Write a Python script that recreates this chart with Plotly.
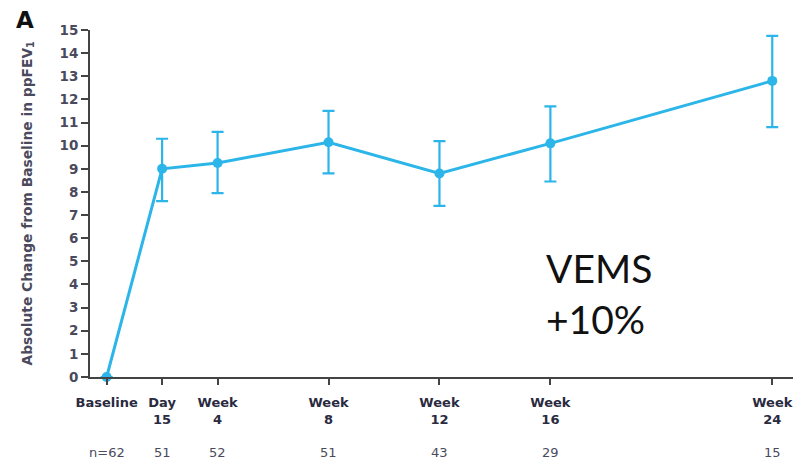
import plotly.graph_objects as go

# Data (x positions in weeks)
visit_weeks = [0, 2, 4, 8, 12, 16, 24]
visit_labels = ["Baseline", "Day<br>15", "Week<br>4", "Week<br>8",
                "Week<br>12", "Week<br>16", "Week<br>24"]
n_labels = ["n=62", "51", "52", "51", "43", "29", "15"]
mean_change = [0.0, 9.0, 9.25, 10.15, 8.8, 10.1, 12.8]
upper = [0.0, 10.3, 10.6, 11.5, 10.2, 11.7, 14.75]
lower = [0.0, 7.6, 7.95, 8.8, 7.4, 8.45, 10.8]
y_ticks = list(range(0, 16))

err_plus = [u - m for u, m in zip(upper, mean_change)]
err_minus = [m - l for m, l in zip(mean_change, lower)]

blue = "#2bb5e8"
bold_font = "DejaVu Sans"

fig = go.Figure()
fig.add_trace(go.Scatter(
    x=visit_weeks, y=mean_change, mode="lines+markers",
    line=dict(color=blue, width=3),
    marker=dict(color=blue, size=10),
    error_y=dict(type="data", symmetric=False, array=err_plus, arrayminus=err_minus,
                 color=blue, thickness=2.2, width=6),
    cliponaxis=False, showlegend=False,
))

ticktext = ["<b>" + "</b><br><b>".join(t.split("<br>")) + "</b>" for t in visit_labels]

fig.update_layout(
    width=793, height=457,
    margin=dict(l=82, r=1, t=22, b=88),
    paper_bgcolor="white", plot_bgcolor="white",
    font=dict(family=bold_font, size=11, color="#333344"),
    xaxis=dict(
        range=[-0.6, 25.0], showgrid=False, zeroline=False, automargin=False,
        showline=True, linecolor="#444444", linewidth=2,
        tickmode="array", tickvals=visit_weeks, ticktext=ticktext,
        ticks="outside", ticklen=6, tickwidth=2, tickcolor="#444444",
        ticklabelstandoff=6,
        tickfont=dict(family=bold_font, size=13, color="#2a2a40"),
    ),
    yaxis=dict(
        range=[0, 15], showgrid=False, zeroline=False, automargin=False,
        showline=True, linecolor="#444444", linewidth=2,
        tickmode="array", tickvals=y_ticks, ticktext=[f"<b>{v}</b>" for v in y_ticks],
        ticks="outside", ticklen=7, tickwidth=2, tickcolor="#444444",
        tickfont=dict(family=bold_font, size=13.5, color="#4a4a5c"),
    ),
)

# Y axis title
fig.add_annotation(
    text="<b>Absolute Change from Baseline in ppFEV<sub>1</sub></b>",
    xref="paper", yref="paper", x=0, y=0.5, xshift=-63,
    textangle=-90, showarrow=False, font=dict(family=bold_font, size=13.8, color="#4a4a5c"),
    xanchor="center", yanchor="middle",
)

# Panel letter
fig.add_annotation(
    text="<b>A</b>", xref="paper", yref="paper", x=0, y=1, xshift=-76, yshift=25,
    showarrow=False, font=dict(family=bold_font, size=23, color="#111111"),
    xanchor="left", yanchor="top",
)

# n row
for xv, nl in zip(visit_weeks, n_labels):
    fig.add_annotation(
        text=nl, x=xv, xref="x", yref="paper", y=0, yshift=-75,
        showarrow=False, font=dict(family=bold_font, size=13, color="#4a4a5c"),
        yanchor="middle",
    )

# VEMS text
fig.add_annotation(
    text="VEMS<br>+10%", xref="paper", yref="paper", x=0.64, y=0.24,
    showarrow=False, align="left", xanchor="left", yanchor="middle",
    font=dict(family="Lato, Noto Sans", size=39, color="#111111"),
)

fig.write_html("out.html")
